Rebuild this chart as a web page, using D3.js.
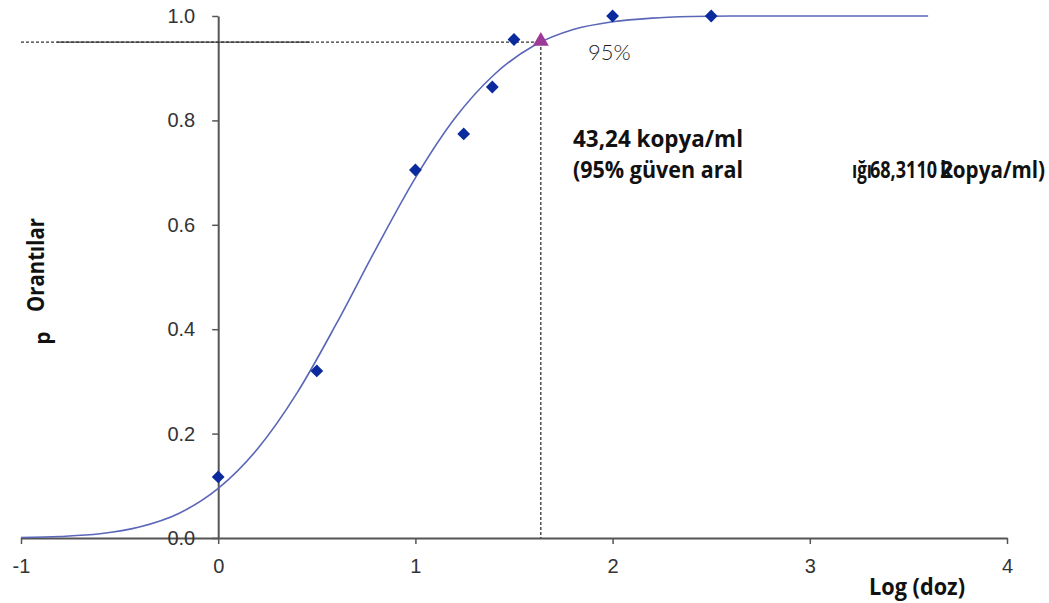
<!DOCTYPE html>
<html><head><meta charset="utf-8">
<script src="https://cdn.jsdelivr.net/npm/d3@7"></script>
<style>body{margin:0;background:#fff}svg{display:block}</style>
</head><body>
<script>
// observed hit proportions
const doseLog = [0, 0.5, 1.0, 1.245, 1.39, 1.5, 2.0, 2.5];
const proportion = [0.117, 0.32, 0.705, 0.774, 0.864, 0.955, 1.0, 1.0];
// fitted probit curve
const curveX = [-1, -0.8, -0.6, -0.4, -0.2, 0, 0.2, 0.4, 0.6, 0.8, 1.0, 1.2, 1.4, 1.6, 1.8, 2.0, 2.2, 2.4, 2.6, 2.8, 3.0, 3.2, 3.4, 3.6];
const curveY = [0.001, 0.003, 0.008, 0.021, 0.047, 0.095, 0.171, 0.278, 0.411, 0.554, 0.690, 0.804, 0.888, 0.943, 0.974, 0.989, 0.996, 0.999, 1.0, 1.0, 1.0, 1.0, 1.0, 1.0];
const lodX = [1.636];
const lodY = [0.95];
const xTicks = [-1, 0, 1, 2, 3, 4];
const xTickLabels = ["-1", "0", "1", "2", "3", "4"];
const yTicks = [0, 0.2, 0.4, 0.6, 0.8, 1.0];
const yTickLabels = ["0.0", "0.2", "0.4", "0.6", "0.8", "1.0"];

const W = 1049, H = 603;
const svg = d3.select("body").append("svg").attr("width", W).attr("height", H);
const x = d3.scaleLinear().domain([-1, 4]).range([21, 1007]);
const y = d3.scaleLinear().domain([0, 1]).range([538, 16]);
const tickFont = "'Liberation Sans', Arial, sans-serif";

// x axis
const xa = svg.append("g").attr("transform", `translate(0,${y(0)})`)
  .call(d3.axisBottom(x).tickValues(xTicks).tickFormat((d, i) => xTickLabels[i]).tickSize(6).tickPadding(15).tickSizeOuter(0));
xa.attr("font-family", tickFont);
xa.select(".domain").attr("stroke", "#555").attr("stroke-width", 2);
xa.selectAll(".tick line").attr("stroke", "#555").attr("stroke-width", 1.5);
xa.selectAll("text").style("font-family", tickFont).attr("font-size", 20).attr("fill", "#333");

// y axis
const ya = svg.append("g").attr("transform", `translate(${x(0)},0)`)
  .call(d3.axisLeft(y).tickValues(yTicks).tickFormat((d, i) => yTickLabels[i]).tickSize(6).tickPadding(17).tickSizeOuter(0));
ya.attr("font-family", tickFont);
ya.select(".domain").attr("stroke", "#555").attr("stroke-width", 2);
ya.selectAll(".tick line").attr("stroke", "#555").attr("stroke-width", 1.5);
ya.selectAll("text").style("font-family", tickFont).attr("font-size", 20).attr("fill", "#333");

// reference lines at 95%
svg.append("line").attr("x1", 57).attr("x2", 310).attr("y1", y(lodY[0])).attr("y2", y(lodY[0]))
  .attr("stroke", "#444").attr("stroke-width", 1.2);
svg.append("line").attr("x1", x(-1)).attr("x2", x(lodX[0])).attr("y1", y(lodY[0])).attr("y2", y(lodY[0]))
  .attr("stroke", "#333").attr("stroke-width", 1.3).attr("stroke-dasharray", "3,2");
svg.append("line").attr("x1", x(lodX[0])).attr("x2", x(lodX[0])).attr("y1", y(lodY[0])).attr("y2", y(0))
  .attr("stroke", "#333").attr("stroke-width", 1.3).attr("stroke-dasharray", "3,2");

// fitted curve
const line = d3.line().x((d, i) => x(curveX[i])).y((d, i) => y(curveY[i])).curve(d3.curveMonotoneX);
svg.append("path").datum(curveY).attr("d", line).attr("fill", "none").attr("stroke", "#5a66b8").attr("stroke-width", 1.6);

// diamonds
svg.append("g").selectAll("path").data(doseLog).join("path")
  .attr("d", d3.symbol(d3.symbolSquare, 82)())
  .attr("transform", (d, i) => `translate(${x(d)},${y(proportion[i])}) rotate(45)`)
  .attr("fill", "#0a2a9e");

// triangle
svg.append("g").selectAll("path").data(lodX).join("path")
  .attr("d", d3.symbol(d3.symbolTriangle, 110)())
  .attr("transform", (d, i) => `translate(${x(d)},${y(lodY[i]) - 1})`)
  .attr("fill", "#9c3a98");

// labels
const bold = "'Open Sans', Lato, sans-serif";
function btxt(xp, yp, s, len) {
  const t = svg.append("text").attr("x", xp).attr("y", yp).text(s)
    .attr("font-family", bold).attr("font-weight", 700).attr("font-size", 23).attr("fill", "#111");
  if (len) t.attr("textLength", len).attr("lengthAdjust", "spacingAndGlyphs");
  return t;
}
svg.append("text").attr("x", 588).attr("y", 60).text("95%")
  .attr("font-family", "Lato, sans-serif").attr("font-weight", 300).attr("font-size", 22).attr("fill", "#222");

btxt(573, 147, "43,24 kopya/ml", 170);
btxt(573, 178, "(95% güven aral", 170);
btxt(852, 178, "ığı", 20);
btxt(870, 178, "68,3110", 67);
btxt(940, 178, "kopya/ml)", 105);
btxt(940, 178, "2");

svg.append("text").attr("transform", "translate(44,265) rotate(-90)").attr("text-anchor", "middle").text("Orantılar")
  .attr("textLength", 94).attr("lengthAdjust", "spacingAndGlyphs")
  .attr("font-family", bold).attr("font-weight", 700).attr("font-size", 23).attr("fill", "#111");
svg.append("text").attr("transform", "translate(50,338) rotate(-90)").attr("text-anchor", "middle").text("p")
  .attr("font-family", bold).attr("font-weight", 700).attr("font-size", 21).attr("fill", "#111");

btxt(869, 595, "Log (doz)", 96);
</script>
</body></html>
